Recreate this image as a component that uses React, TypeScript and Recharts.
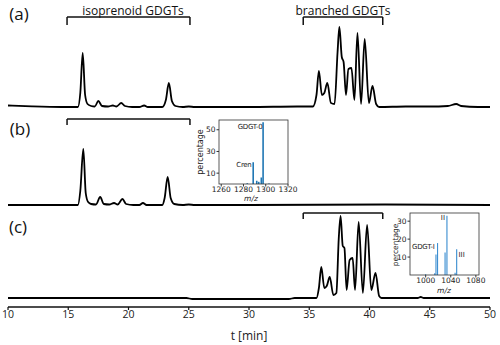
import React from 'react'
import { LineChart, Line, XAxis, YAxis, ReferenceLine, BarChart, Bar } from 'recharts'

// chromatogram traces: [retention time (min), intensity above baseline]
const traceA: [number, number][] = [
  [10, 1.5], [12, 0.6], [14.5, 0], [15.8, 0], [16.0, 14], [16.2, 54], [16.4, 12], [16.6, 3], [16.9, 1],
  [17.2, 0.5], [17.5, 6], [17.8, 1], [18.3, 0.5], [18.7, 1.5], [19.0, 0.5], [19.4, 4], [19.7, 1],
  [20.3, 0], [20.9, 0], [21.3, 1.5], [21.6, 0], [22.8, 0], [23.1, 7], [23.35, 24], [23.6, 6], [23.9, 1],
  [24.5, 0], [25, 0.5], [25.5, 0], [30, 0], [34, 0.5], [35.3, 0.5], [35.6, 12], [35.8, 36], [36.05, 12],
  [36.25, 14], [36.5, 24], [36.8, 4], [37.1, 3], [37.35, 55], [37.5, 80], [37.7, 50], [37.85, 45],
  [38.05, 12], [38.25, 38], [38.5, 39], [38.75, 7], [39.0, 74], [39.3, 3], [39.6, 68], [39.95, 4],
  [40.25, 21], [40.55, 3], [40.8, 0], [43, 0.5], [45, 0.5], [46.5, 1], [47.2, 3], [47.6, 1], [49, 0], [50, 0],
]

const traceB: [number, number][] = [
  [10, 0], [14.5, 0], [15.8, 0], [16.0, 14], [16.25, 56], [16.45, 12], [16.65, 3], [16.9, 1],
  [17.3, 0.5], [17.65, 8], [17.95, 1], [18.4, 0.5], [18.8, 2], [19.1, 0.5], [19.5, 6], [19.8, 1],
  [20.4, 0], [20.9, 0], [21.2, 2], [21.5, 0], [22.8, 0], [23.0, 7], [23.25, 28], [23.5, 7], [23.8, 1],
  [24.5, 0], [25, 0.5], [25.5, 0], [30, 0], [41.3, 0.5], [50, 0],
]

const traceC: [number, number][] = [
  [10, 0], [20, 0], [24.8, 0], [25.3, -1], [30, -1], [33.3, -1], [33.8, 0], [35.6, 0], [35.8, 10],
  [36.0, 31], [36.25, 10], [36.45, 12], [36.7, 21], [37.0, 3], [37.25, 5], [37.45, 60], [37.6, 82],
  [37.78, 52], [37.92, 50], [38.1, 8], [38.35, 38], [38.6, 40], [38.8, 8], [39.1, 76], [39.45, 5],
  [39.8, 73], [40.15, 8], [40.5, 25], [40.8, 2], [41.0, 0], [44.0, 0], [44.25, 1], [44.5, 0], [50, 0],
]

const timeTicks = [10, 15, 20, 25, 30, 35, 40, 45, 50]

// mass spectra insets
const specBMz = [1283.5, 1288.8, 1292, 1293.8, 1296.1, 1297.7, 1303]
const specBPct = [0.7, 20, 3, 2, 6, 57, 0.5]
const specBTicks = [1260, 1280, 1300, 1320]
const specBYTicks = [10, 30, 50]

const specCMz = [1000, 1014.5, 1016.5, 1019, 1031, 1034, 1047, 1049.5]
const specCPct = [0.4, 1, 11.4, 17.8, 12.5, 33, 1.2, 14.3]
const specCTicks = [1000, 1040, 1080]
const specCYTicks = [10, 20, 30]

const toRows = (pts: [number, number][]) => pts.map(([t, v]) => ({ t, v }))
const dataA = toRows(traceA)
const dataB = toRows(traceB)
const dataC = toRows(traceC)
const specB = specBMz.map((mz, i) => ({ mz, pct: specBPct[i] }))
const specC = specCMz.map((mz, i) => ({ mz, pct: specCPct[i] }))

const mainFont = 'Open Sans, sans-serif'
const insetFont = 'DejaVu Sans, sans-serif'

function bracket(id: string, x1: number, x2: number, yTop: number, yBot: number) {
  const style = { stroke: '#111', strokeWidth: 1.5 }
  return [
    <ReferenceLine key={id + x1 + 'h'} yAxisId={id} segment={[{ x: x1, y: yTop }, { x: x2, y: yTop }]} {...style} />,
    <ReferenceLine key={id + x1 + 'l'} yAxisId={id} segment={[{ x: x1, y: yTop }, { x: x1, y: yBot }]} {...style} />,
    <ReferenceLine key={id + x1 + 'r'} yAxisId={id} segment={[{ x: x2, y: yTop }, { x: x2, y: yBot }]} {...style} />,
  ]
}

function Inset({ data, left, top, width, height, domain, ticks, yDomain, yTicks, color }: any) {
  return (
    <div style={{ position: 'absolute', left, top }}>
      <BarChart width={width} height={height} data={data} margin={{ top: 8, right: 12, bottom: 0, left: 0 }}>
        <XAxis dataKey="mz" type="number" domain={domain} ticks={ticks} interval={0} allowDataOverflow axisLine={false}
          tickSize={2.5} tickMargin={0} height={20} tickLine={{ stroke: '#333' }}
          tick={{ fontSize: 7.5, fill: '#222', fontFamily: insetFont }} />
        <YAxis type="number" domain={yDomain} ticks={yTicks} interval={0} allowDataOverflow axisLine={false}
          tickSize={2.5} tickMargin={1} width={39} tickLine={{ stroke: '#333' }}
          tick={{ fontSize: 7.5, fill: '#222', fontFamily: insetFont }} />
        <Bar dataKey="pct" fill={color} barSize={2} isAnimationActive={false} />
      </BarChart>
    </div>
  )
}

export default function App() {
  return (
    <div style={{ position: 'absolute', left: 0, top: 0, width: 500, height: 345, background: '#fff' }}>
      <LineChart width={500} height={345} margin={{ top: 0, right: 10, bottom: 0, left: 8 }}>
        <XAxis dataKey="t" type="number" domain={[10, 50]} ticks={timeTicks} interval={0} allowDataOverflow height={38}
          axisLine={{ stroke: '#111', strokeWidth: 1.3 }} tickLine={{ stroke: '#111', strokeWidth: 1.2 }}
          tickSize={3} tickMargin={1} tick={{ fontSize: 10.5, fill: '#222', fontFamily: mainFont }}
          label={{ value: 't [min]', position: 'insideBottom', offset: 5, fontSize: 12, fill: '#222', fontFamily: mainFont }} />
        <YAxis yAxisId="a" hide type="number" domain={[-200, 107]} allowDataOverflow />
        <YAxis yAxisId="b" hide type="number" domain={[-102, 205]} allowDataOverflow />
        <YAxis yAxisId="c" hide type="number" domain={[-9, 298]} allowDataOverflow />
        <Line yAxisId="a" data={dataA} dataKey="v" type="monotone" stroke="#000" strokeWidth={1.8} dot={false} isAnimationActive={false} />
        <Line yAxisId="b" data={dataB} dataKey="v" type="monotone" stroke="#000" strokeWidth={1.8} dot={false} isAnimationActive={false} />
        <Line yAxisId="c" data={dataC} dataKey="v" type="monotone" stroke="#000" strokeWidth={1.8} dot={false} isAnimationActive={false} />
        {bracket('a', 14.9, 25.1, 90, 82)}
        {bracket('a', 34.5, 41.1, 90, 82)}
        {bracket('b', 14.9, 25.1, 86, 80)}
        {bracket('c', 34.5, 41.1, 85, 79)}
      </LineChart>

      <Inset data={specB} left={180} top={112} width={120} height={92} domain={[1258, 1320]} ticks={specBTicks}
        yDomain={[0, 59]} yTicks={specBYTicks} color="#1f77b4" />
      <Inset data={specC} left={371} top={206} width={120} height={89} domain={[975, 1085]} ticks={specCTicks}
        yDomain={[0, 34]} yTicks={specCYTicks} color="#3d8fd1" />

      <svg width={500} height={345} style={{ position: 'absolute', left: 0, top: 0, pointerEvents: 'none' }}>
        <g fontFamily={mainFont} fill="#111">
          <text x={19} y={13} fontSize={17} textAnchor="middle" dominantBaseline="central">(a)</text>
          <text x={20} y={128} fontSize={17} textAnchor="middle" dominantBaseline="central">(b)</text>
          <text x={18} y={226} fontSize={17} textAnchor="middle" dominantBaseline="central">(c)</text>
          <text x={133} y={10} fontSize={12} textAnchor="middle" dominantBaseline="central">isoprenoid GDGTs</text>
          <text x={343} y={10} fontSize={12} textAnchor="middle" dominantBaseline="central">branched GDGTs</text>
        </g>
        <rect x={219} y={120} width={69} height={64} fill="none" stroke="#333" strokeWidth={0.8} />
        <rect x={410} y={213} width={69} height={62} fill="none" stroke="#333" strokeWidth={0.8} />
        <g fontFamily={insetFont} fill="#222" fontSize={7}>
          <text x={262.5} y={127} textAnchor="end" dominantBaseline="central" letterSpacing={-0.3}>GDGT-0</text>
          <text x={251.5} y={165} textAnchor="end" dominantBaseline="central" letterSpacing={-0.3}>Cren</text>
          <text x={434.5} y={247} textAnchor="end" dominantBaseline="central" letterSpacing={-0.3}>GDGT-I</text>
          <text x={445} y={218} textAnchor="end" dominantBaseline="central">II</text>
          <text x={458.5} y={254.5} textAnchor="start" dominantBaseline="central">III</text>
          <text x={251} y={198.5} fontSize={7.5} fontStyle="italic" textAnchor="middle" dominantBaseline="central">m/z</text>
          <text x={444} y={290.5} fontSize={7.5} fontStyle="italic" textAnchor="middle" dominantBaseline="central">m/z</text>
          <text transform="translate(200,152) rotate(-90)" fontSize={8} textAnchor="middle" dominantBaseline="central">percentage</text>
          <text transform="translate(395,245) rotate(-90)" fontSize={7.5} textAnchor="middle" dominantBaseline="central">percentage</text>
        </g>
      </svg>
    </div>
  )
}
